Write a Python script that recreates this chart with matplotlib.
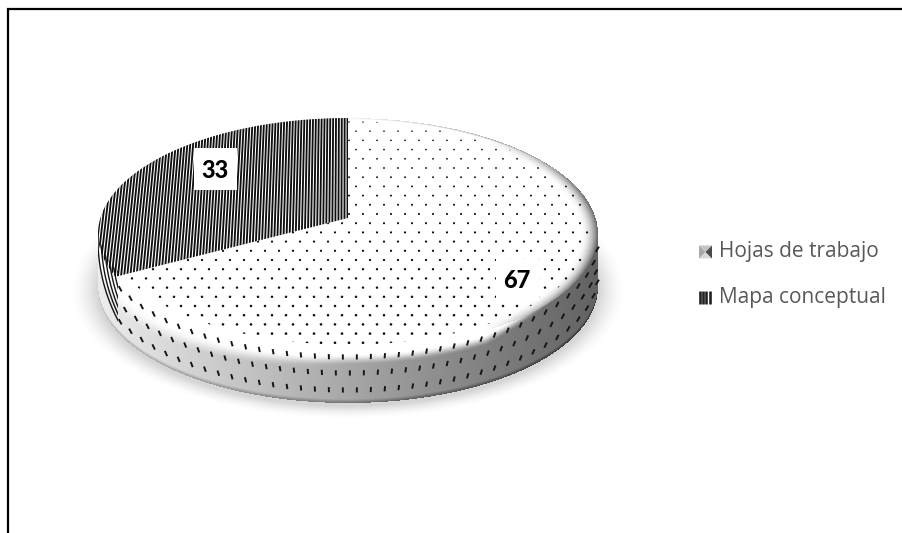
import numpy as np
import matplotlib
matplotlib.use('Agg')
import matplotlib.pyplot as plt
from matplotlib.collections import LineCollection
from matplotlib.patches import Polygon, Rectangle

# data
categories = ['Hojas de trabajo', 'Mapa conceptual']
values = [67, 33]

W, H = 902, 533
# pie geometry, in pixels of the picture
cx, cy, rx, ry = 348, 234, 250, 116
apex_y = 218
depth = 53
A = 113.8
k = 0.138
B = rx * np.sqrt(1 - k ** 2)

def project(u, v):
    # disc coordinates to picture, with the perspective of the tilted pie
    w = 1 + k * v
    return cx + B * u / w, apex_y - A * v / w

def wedge(start, end, scale=1.0):
    t = np.linspace(start, end, 200)
    x, y = project(scale * np.sin(t), scale * np.cos(t))
    ax0, ay0 = project(0, 0)
    return np.column_stack([np.r_[ax0, x], np.r_[ay0, y]])

fig = plt.figure(figsize=(W / 100, H / 100), dpi=100)
ax = fig.add_axes([0, 0, 1, 1])
ax.set_xlim(0, W)
ax.set_ylim(H, 0)
ax.axis('off')

# shading of the body
yy, xx = np.mgrid[0:H, 0:W] + 0.5
X = (xx - cx) / rx
Y = (yy - cy) / ry
R = np.sqrt(X ** 2 + Y ** 2)
img = np.ones((H, W, 4))
img[..., 3] = 0

# soft shadow
Rs = np.sqrt(((xx - cx) / rx) ** 2 + ((yy - cy - depth - 3) / ry) ** 2)
sh = np.clip((1.11 - Rs) / 0.11, 0, 1) ** 1.6
img[..., :3] = 0.45
img[..., 3] = sh * 0.3

# side: a white bevel that fades into the grey, wider on the left, gone on the right
s = np.where(np.abs(X) < 1, yy - cy - ry * np.sqrt(np.clip(1 - X ** 2, 0, 1)), -1)
side = (s > 0) & (s <= depth) & (R > 1)
base = np.clip(232 - (xx - 115) / 475 * 132, 95, 235) / 255
right = np.clip((X - 0.55) / 0.4, 0, 1)
left = np.clip(-X, 0, 1)
f = np.clip((s + 22 * right - 4 - 8 * left) / (11 + 10 * left), 0, 1)
f = f * f * (3 - 2 * f)
val = 1 - f * (1 - base)
val = val - 0.22 * np.clip((s - depth + 4) / 4, 0, 1)
for i in range(3):
    img[..., i][side] = val[side]
img[..., 3][side] = 1

# top face, with a soft rim towards the right and a thin grey edge at the back
face = R <= 1
rim = np.clip((R - 0.93) / 0.07, 0, 1) ** 2 * right * 0.6
back = np.clip((R - 0.985) / 0.015, 0, 1) * np.clip(X + 0.1, 0, 1) * np.clip(-Y * 3, 0, 1) * 0.5
shade = np.maximum(rim, back)
for i in range(3):
    img[..., i][face] = (1 - shade)[face]
img[..., 3][face] = 1
ax.imshow(img, extent=(0, W, H, 0), interpolation='bilinear', aspect='auto', zorder=1)

# slice angles come from the values, clockwise from the top for the first one
total = sum(values)
turn = 2 * np.pi * values[0] / total
dots_poly = wedge(0, turn, 0.965)
lines_poly = wedge(turn, 2 * np.pi)

# dots on the first slice
dots_clip = Polygon(dots_poly, transform=ax.transData, fc='none', ec='none')
ax.add_patch(dots_clip)
rows = np.arange(122, 350, 9.2)
px, py, ps = [], [], []
for n, row in enumerate(rows):
    gx = np.arange(349 + (n % 2) * 7 - 14 * 20, 600, 14)
    px.extend(gx)
    py.extend([row] * len(gx))
    ps.extend([1.2 + (row - 118) / 232 * 2.6] * len(gx))
dots = ax.scatter(px, py, s=ps, c='#111111', linewidths=0, zorder=3)
dots.set_clip_path(dots_clip)

# stripes on the second slice
lines_clip = Polygon(lines_poly, transform=ax.transData, fc='none', ec='none')
ax.add_patch(lines_clip)
segs = []
for x0 in np.arange(347.5, 90, -3.0):
    lean = (x0 - cx) / 2200 * 100
    segs.append([(x0 + lean, 300), (x0 - lean, 110)])
stripes = LineCollection(segs, colors='#101010', linewidths=1.35, zorder=3)
ax.add_collection(stripes)
stripes.set_clip_path(lines_clip)

# stripes running around the rim on the left, and down the side
a = np.linspace(-0.05, 0.5, 60)
rim_segs = []
for d in np.arange(0, 34, 3.4):
    rim_segs.append(np.column_stack([cx - (rx - d) * np.cos(a), 240 + 205 * np.sin(a)]))
rim_lines = LineCollection(rim_segs, colors='#151515', linewidths=1.0, zorder=3)
ax.add_collection(rim_lines)
sx = np.linspace(cx - rx, 118, 60)
top_edge = cy + ry * np.sqrt(np.clip(1 - ((sx - cx) / rx) ** 2, 0, 1))
side_poly = np.r_[np.column_stack([sx, top_edge - 8]),
                  np.column_stack([sx[::-1], top_edge[::-1] + depth])]
side_clip = Polygon(side_poly, transform=ax.transData, fc='none', ec='none')
ax.add_patch(side_clip)
rim_lines.set_clip_path(side_clip)

# dots on the side, in three rows following the edge
t = np.linspace(0.02, np.pi - 0.02, 3000)
ex = cx + rx * np.cos(t)
ey = cy + ry * np.sin(t)
arc = np.r_[0, np.cumsum(np.hypot(np.diff(ex), np.diff(ey)))]
ticks = []
for n, off in enumerate([7, 23, 40]):
    for d in np.arange(6 + (n % 2) * 7, arc[-1], 14):
        tx = np.interp(d, arc, ex)
        ty = np.interp(d, arc, ey) + off
        if tx < 119:
            continue
        tilt = (tx - cx) / rx * 1.6
        ticks.append([(tx - tilt, ty + 2.6), (tx + tilt, ty - 2.6)])
ax.add_collection(LineCollection(ticks, colors='#151515', linewidths=1.4, zorder=4))

# data labels
label_xy = [(517, 280), (215, 169)]
for val_, (lx, ly) in zip(values, label_xy):
    ax.add_patch(Rectangle((lx - 21.5, ly - 21), 43, 42, fc='white', ec='none', zorder=5))
    ax.text(lx, ly + 1, str(val_), fontsize=17, fontweight='black', family='Lato',
            ha='center', va='center', color='black', zorder=6)

# legend
legend_y = [252, 297]
mx0, mx1 = 699, 712
y0, y1 = legend_y[0] - 6.5, legend_y[0] + 6.5
xm, ym = (mx0 + mx1) / 2, legend_y[0]
ax.add_patch(Polygon([(mx0, y0), (mx1, y0), (xm, ym)], fc='#c4c4c4', ec='none', zorder=5))
ax.add_patch(Polygon([(mx0, y1), (mx1, y1), (xm, ym)], fc='#d8d8d8', ec='none', zorder=5))
ax.add_patch(Polygon([(mx0, y0), (mx0, y1), (xm, ym)], fc='#a8a8a8', ec='none', zorder=5))
ax.add_patch(Polygon([(mx1, y0), (mx1, y1), (xm, ym)], fc='#4a4a4a', ec='none', zorder=5))
for bx in np.arange(mx0 + 1, mx1, 3.2):
    ax.plot([bx, bx], [legend_y[1] - 6.5, legend_y[1] + 6.5], color='#222222', lw=1.9,
            solid_capstyle='butt', zorder=5)
for name, ly in zip(categories, legend_y):
    ax.text(719, ly, name, fontsize=15, family='Open Sans', color='#595959',
            ha='left', va='center', zorder=5)

# frame, open on the right and at the bottom
ax.plot([8, 8, W], [H, 9, 9], color='black', lw=1.6, solid_joinstyle='miter', zorder=7)

fig.savefig('out.png', dpi=100)
